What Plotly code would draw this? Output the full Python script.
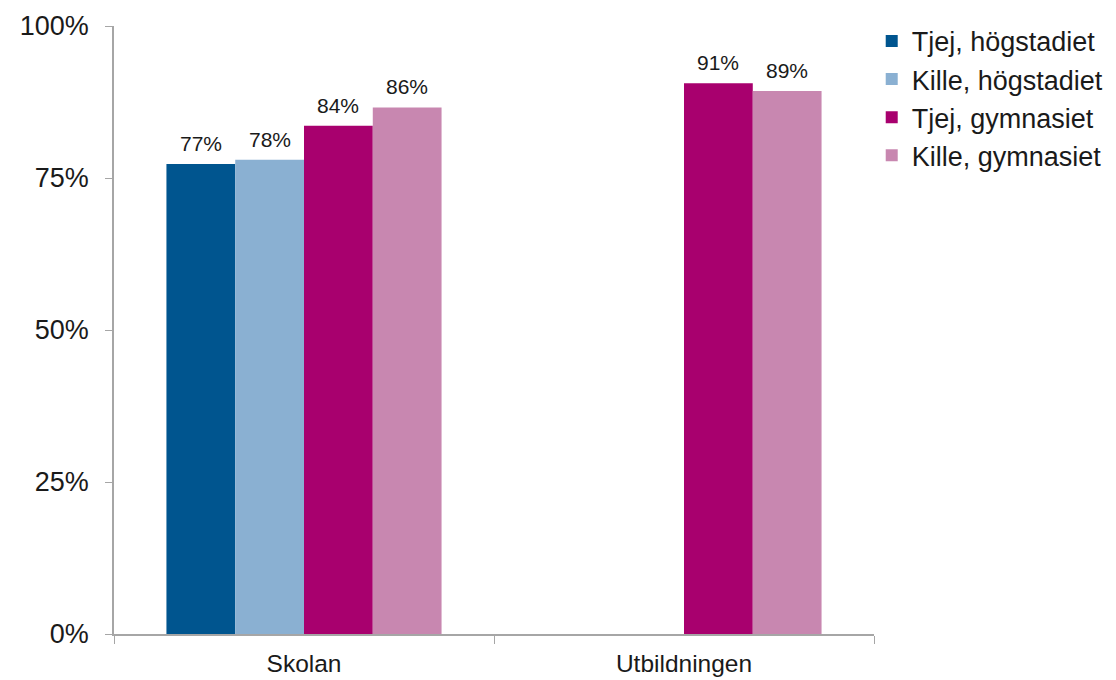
import plotly.graph_objects as go

categories = ["Skolan", "Utbildningen"]
series_names = ["Tjej, högstadiet", "Kille, högstadiet", "Tjej, gymnasiet", "Kille, gymnasiet"]
series_values = [
    [0.773, None],
    [0.780, None],
    [0.836, 0.906],
    [0.866, 0.893],
]
series_labels = [
    ["77%", ""],
    ["78%", ""],
    ["84%", "91%"],
    ["86%", "89%"],
]
colors = ["#00558F", "#8AB0D2", "#A8006E", "#C887B0"]
y_tickvals = [0, 0.25, 0.5, 0.75, 1.0]
y_ticktext = ["0%", "25%", "50%", "75%", "100%"]

FONT = "Liberation Sans, Arial, sans-serif"
BARGAP = 0.276
n_series = len(series_names)
slot = (1 - BARGAP) / n_series

fig = go.Figure()
for name, vals, col in zip(series_names, series_values, colors):
    fig.add_trace(go.Bar(
        name=name, x=categories, y=vals,
        marker=dict(color=col, line=dict(width=0)),
    ))

# value labels above bars, positioned via data coordinates of the group slots
for i, (vals, labs) in enumerate(zip(series_values, series_labels)):
    for ci, (v, lab) in enumerate(zip(vals, labs)):
        if v is None:
            continue
        fig.add_annotation(
            x=ci + (i - (n_series - 1) / 2) * slot, y=v, xref="x", yref="y",
            text=lab, showarrow=False, yanchor="bottom", yshift=7,
            font=dict(size=21, family=FONT, color="#1a1a1a"),
        )

fig.update_layout(
    width=1108, height=672,
    margin=dict(l=106, r=242, t=18, b=46, autoexpand=False),
    paper_bgcolor="white", plot_bgcolor="white",
    barmode="group", bargap=BARGAP, bargroupgap=0,
    font=dict(family=FONT, color="#1a1a1a"),
    legend=dict(
        x=0.997, xanchor="left", y=1.015, yanchor="top",
        font=dict(size=27, family=FONT, color="#1a1a1a"),
        bgcolor="rgba(0,0,0,0)", itemclick=False,
    ),
    showlegend=True,
)
fig.update_xaxes(
    showline=True, linecolor="#A6A6A6", linewidth=1.5,
    ticks="outside", tickson="boundaries", ticklen=8, tickcolor="#A6A6A6",
    tickfont=dict(size=24.5, family=FONT, color="#1a1a1a"),
    ticklabelstandoff=7,
    showgrid=False, zeroline=False, automargin=False,
)
fig.update_yaxes(
    range=[0, 1], tickvals=y_tickvals, ticktext=y_ticktext,
    showline=True, linecolor="#A6A6A6", linewidth=1.5,
    ticks="outside", ticklen=7, tickcolor="#A6A6A6",
    tickfont=dict(size=27, family=FONT, color="#1a1a1a"),
    ticklabelstandoff=11,
    showgrid=False, zeroline=False, automargin=False,
)

fig.write_html("out.html")
